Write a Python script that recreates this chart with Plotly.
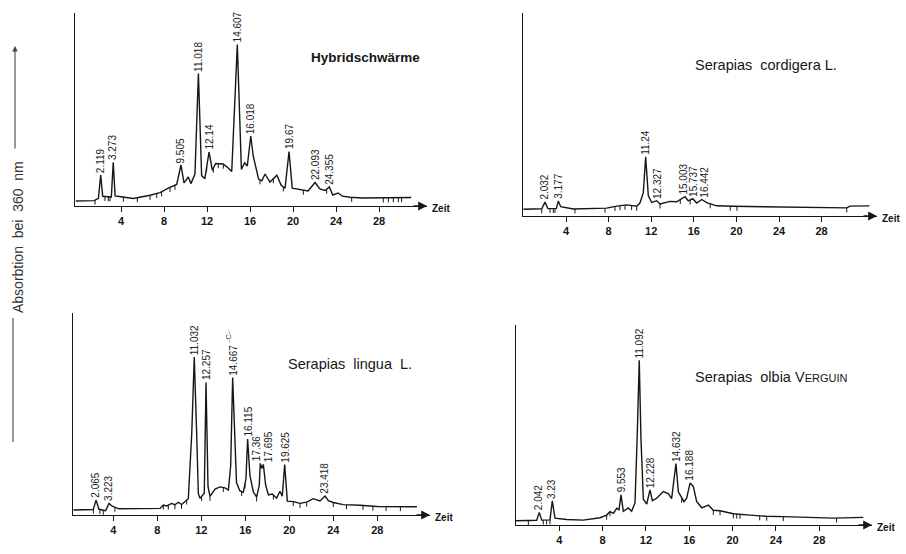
import numpy as np
import plotly.graph_objects as go

W, H = 906, 554

# ---------------- data (retention time in min, absorbance in arbitrary units) ----------------
p1_t = [-0.2, 1.5, 1.9, 2.11, 2.3, 3.1, 3.28, 3.45, 4.0, 5.15, 6.7, 7.63, 8.4, 9.18, 9.58, 9.86,
        10.26, 10.5, 10.88, 11.2, 11.5, 11.8, 12.19, 12.5, 12.8, 13.5, 14.0, 14.3, 14.82, 15.2,
        15.5, 15.75, 16.07, 16.3, 16.8, 17.1, 17.4, 17.86, 18.5, 18.9, 19.26, 19.63, 19.93, 20.65,
        21.4, 22.05, 22.5, 22.98, 23.38, 23.7, 24.2, 24.6, 25.3, 26.5, 28.1, 31.0]
p1_a = [5, 5.4, 7.6, 31, 9.7, 9, 43.7, 10, 9.2, 7.5, 10.7, 13.3, 17.8, 21.5, 41, 23.2,
        29, 22.4, 31.9, 132.5, 30.4, 27.2, 54, 35.7, 42.5, 42, 37.8, 34.5, 161.4, 36.5,
        43.3, 40, 70, 50, 26.9, 25.3, 32, 23.9, 30.7, 20.8, 17.7, 54.5, 17.9, 16.4,
        15, 23.5, 17, 15.5, 19, 11, 13, 9.8, 8.7, 8, 8, 8.5]
p1_peak_lbl = ["2.119", "3.273", "9.505", "11.018", "12.14", "14.607", "16.018", "19.67", "22.093", "24.355"]
p1_peak_t = [2.11, 3.28, 9.58, 11.2, 12.19, 14.82, 16.07, 19.63, 22.05, 23.38]
p1_peak_a = [31, 43.7, 41, 132.5, 54, 161.4, 70, 54.5, 23.5, 19]
p1_marks = [1.58, 2.51, 2.82, 2.98, 4.22, 5.52, 6.7, 7.32, 7.78, 8.56, 9.02, 11.97, 12.59, 13.05,
            13.52, 16.93, 18.17, 19.1, 20.96, 23.13, 25.46, 28.4, 28.87, 29.33, 29.8, 30.1]

p2_t = [0, 1.72, 2.03, 2.3, 3.1, 3.28, 3.5, 4.69, 7.82, 8.76, 9.7, 10.64, 10.95, 11.26, 11.48,
        11.73, 12.05, 12.52, 12.83, 13.77, 14.39, 15.17, 15.48, 15.9, 16.27, 16.74, 17.21, 18.15,
        19.7, 22.85, 25.97, 29.1, 30.36, 30.67, 32.5]
p2_a = [6.7, 7.2, 13.9, 7.4, 7.6, 15, 9.3, 7, 7.9, 9.9, 11.1, 9.8, 13.2, 23.3, 59.3,
        20.1, 13.5, 15.3, 12, 14.6, 14.2, 19.4, 15.2, 17.3, 13, 16.5, 13.3, 10.2,
        9.7, 9.3, 9.2, 8.4, 8.1, 9.9, 10.1]
p2_peak_lbl = ["2.032", "3.177", "11.24", "12.327", "15.003", "15.737", "16.442"]
p2_peak_t = [2.03, 3.28, 11.48, 12.52, 15.17, 15.9, 16.74]
p2_peak_a = [13.9, 15, 59.3, 15.3, 19.4, 17.3, 16.5]
p2_marks = [1.72, 2.5, 2.81, 2.97, 4.84, 7.66, 8.6, 9.07, 9.54, 10.16, 10.64, 12.83, 14.73,
            15.66, 17.54, 19.42, 20.05, 30.36]

p3_t = [0.36, 2.18, 2.43, 2.7, 3.3, 3.61, 3.9, 4.5, 8.25, 8.55, 8.85, 9.3, 9.6, 9.9, 10.22,
        10.52, 10.82, 11.13, 11.36, 11.58, 11.73, 11.88, 12.13, 12.27, 12.43, 12.61, 12.79,
        13.25, 13.7, 14.15, 14.46, 14.67, 14.85, 15.0, 15.2, 15.5, 15.82, 16.06, 16.21, 16.42,
        16.73, 17.03, 17.27, 17.36, 17.52, 17.64, 17.85, 18.1, 18.45, 18.85, 19.15, 19.36,
        19.58, 19.82, 20.36, 20.97, 21.58, 22.18, 22.79, 23.25, 23.55, 24.0, 24.9, 26.42,
        28.0, 31.6]
p3_a = [5, 5.5, 14.9, 5.7, 4.2, 11.6, 8.8, 6.2, 6.6, 10, 9.1, 11.6, 10.3, 12.7, 10.5,
        13.6, 16.3, 81, 158, 81, 21.6, 16.6, 20, 21.7, 132.5, 28.5, 18.6,
        26, 28.1, 27.2, 25, 49, 137.4, 99, 32.5, 24.3, 22.7, 36, 76, 39.6,
        23, 18, 29.8, 51.6, 46.6, 50.6, 30, 20, 20.9, 17, 23.7, 18.7,
        50.5, 13.9, 13.4, 11.6, 12.8, 16.3, 14.1, 18.9, 14.4, 12.5, 10.4, 9.8,
        8.5, 8.3]
p3_peak_lbl = ["2.065", "3.223", "11.032", "12.257", "14.667", "16.115", "17.36", "17.695", "19.625", "23.418"]
p3_peak_t = [2.43, 3.61, 11.36, 12.43, 14.85, 16.21, 17.36, 17.64, 19.58, 23.25]
p3_peak_a = [14.9, 11.6, 158, 132.5, 137.4, 76, 51.6, 50.6, 50.5, 18.9]
p3_marks = [2.19, 2.79, 3.09, 4.15, 8.55, 9.0, 9.6, 10.2, 10.67, 12.03, 12.79, 14.0, 15.67,
            15.97, 17.03, 18.55, 20.36, 20.97, 21.58, 24.0, 25.2, 26.7, 27.6, 28.8, 30.1]

p4_t = [0, 1.14, 1.91, 2.15, 2.37, 3.14, 3.35, 3.6, 4.68, 6.21, 7.76, 8.37, 8.68, 8.99, 9.3,
        9.51, 9.7, 9.91, 10.37, 10.68, 10.99, 11.2, 11.38, 11.54, 11.76, 12.07, 12.37, 12.59,
        12.99, 13.6, 14.06, 14.37, 14.77, 14.99, 15.3, 15.51, 15.76, 16.07, 16.37, 16.68,
        17.15, 17.76, 18.22, 18.84, 19.45, 20.07, 21.6, 23.15, 24.68, 26.22, 29.3, 32.07]
p4_a = [4.3, 4.6, 4.8, 12.6, 4.9, 5.1, 24.2, 6.9, 5.5, 4.9, 7.3, 9.9, 13.3, 11.6, 16.7,
        15.2, 30.2, 13.6, 17, 13.8, 22.2, 92, 164.7, 85.7, 25.8, 20.8, 35.2, 24.3,
        26.7, 33.5, 31.4, 26.4, 61.5, 33.2, 26.7, 23.3, 26.8, 41.9, 38.6, 23.6,
        17.2, 19.9, 14.7, 14.2, 12.8, 11.2, 9.9, 8.7, 8.4, 7.8, 6.9, 7.6]
p4_peak_lbl = ["2.042", "3.23", "9.553", "11.092", "12.228", "14.632", "16.188"]
p4_peak_t = [2.15, 3.35, 9.7, 11.38, 12.37, 14.77, 16.07]
p4_peak_a = [12.6, 24.2, 30.2, 164.7, 35.2, 61.5, 41.9]
p4_marks = [1.14, 2.52, 2.83, 3.14, 8.37, 8.68, 15.3, 18.22, 18.84, 20.07, 20.38, 20.68,
            22.5, 23.15, 24.68, 29.6]

tick_vals = [4, 8, 12, 16, 20, 24, 28]
titles = ["<b>Hybridschwärme</b>",
          "Serapias\u00a0 cordigera L.",
          "Serapias\u00a0 lingua\u00a0 L.",
          "Serapias\u00a0 olbia V<span style='font-size:11px'>ERGUIN</span>"]
y_title = "Absorbtion\u00a0 bei\u00a0 360\u00a0 nm"

# label nudges in pixels (only where two labels would collide)
label_xshift = {"17.36": -3, "17.695": 6, "15.003": -1.5, "16.442": 2}

# ---------------- layout geometry (pixels) ----------------
panels = [
    dict(x0=78.0, k=10.75, xd=(75, 427), yd=(13, 206), tc=(365, 57), tsize=13.5,
         t=p1_t, a=p1_a, pl=p1_peak_lbl, pt=p1_peak_t, pa=p1_peak_a, mk=p1_marks),
    dict(x0=523.4, k=10.65, xd=(522.5, 877), yd=(13, 216), tc=(766, 65), tsize=14.5,
         t=p2_t, a=p2_a, pl=p2_peak_lbl, pt=p2_peak_t, pa=p2_peak_a, mk=p2_marks),
    dict(x0=69.3, k=11.0, xd=(73.3, 430), yd=(313, 515), tc=(350, 364), tsize=14.5,
         t=p3_t, a=p3_a, pl=p3_peak_lbl, pt=p3_peak_t, pa=p3_peak_a, mk=p3_marks),
    dict(x0=516.0, k=10.83, xd=(516, 872), yd=(325, 525), tc=(771, 377), tsize=14.5,
         t=p4_t, a=p4_a, pl=p4_peak_lbl, pt=p4_peak_t, pa=p4_peak_a, mk=p4_marks),
]

FONT = "Liberation Sans, Arial, sans-serif"
INK = "#161616"

fig = go.Figure()
annotations = []
shapes = []
layout_axes = {}

for i, p in enumerate(panels, start=1):
    xs = "" if i == 1 else str(i)
    xa, ya = "x" + xs, "y" + xs
    xmin = (p["xd"][0] - p["x0"]) / p["k"]
    xmax = (p["xd"][1] - p["x0"]) / p["k"]
    hmax = p["yd"][1] - p["yd"][0]

    fig.add_trace(go.Scatter(x=p["t"], y=p["a"], mode="lines", xaxis=xa, yaxis=ya,
                             line=dict(color=INK, width=1.4), showlegend=False, hoverinfo="skip"))
    mx, my = [], []
    for tm in p["mk"]:
        base = float(np.interp(tm, p["t"], p["a"]))
        mx += [tm, tm, None]
        my += [base, base - 4.5, None]
    fig.add_trace(go.Scatter(x=mx, y=my, mode="lines", xaxis=xa, yaxis=ya,
                             line=dict(color=INK, width=1), showlegend=False, hoverinfo="skip"))

    layout_axes["xaxis" + xs] = dict(
        domain=[p["xd"][0] / W, p["xd"][1] / W], range=[xmin, xmax], anchor=ya,
        showline=True, linecolor=INK, linewidth=1.3, showgrid=False, zeroline=False,
        ticks="outside", ticklen=5, tickwidth=1, tickcolor=INK,
        tickvals=tick_vals, ticktext=["<b>%d</b>" % v for v in tick_vals],
        tickfont=dict(family=FONT, size=11, color=INK), fixedrange=True)
    layout_axes["yaxis" + xs] = dict(
        domain=[1 - p["yd"][1] / H, 1 - p["yd"][0] / H], range=[0, hmax], anchor=xa,
        showline=True, linecolor=INK, linewidth=1.1, showgrid=False, zeroline=False,
        showticklabels=False, ticks="", fixedrange=True)

    for lbl, tp, ap in zip(p["pl"], p["pt"], p["pa"]):
        annotations.append(dict(x=tp, y=ap, xref=xa, yref=ya, text=lbl, textangle=-90,
                                showarrow=False, xanchor="center", yanchor="bottom", yshift=0,
                                xshift=label_xshift.get(lbl, 0),
                                font=dict(family=FONT, size=10, color="#222")))
    annotations.append(dict(x=xmax, y=0, xref=xa, yref=ya, ax=-15, ay=0, axref="pixel", ayref="pixel",
                            text="", showarrow=True, arrowhead=2, arrowsize=1.1, arrowwidth=1.6,
                            arrowcolor=INK))
    annotations.append(dict(x=(p["xd"][1] + 3) / W, y=1 - (p["yd"][1] + 2) / H, xref="paper", yref="paper",
                            text="<b>Zeit</b>", showarrow=False, xanchor="left", yanchor="middle",
                            font=dict(family=FONT, size=10, color=INK)))
    annotations.append(dict(x=p["tc"][0] / W, y=1 - p["tc"][1] / H, xref="paper", yref="paper",
                            text=titles[i - 1], showarrow=False, xanchor="center", yanchor="middle",
                            font=dict(family=FONT, size=p["tsize"], color=INK)))

annotations.append(dict(x=18 / W, y=1 - 237 / H, xref="paper", yref="paper", text=y_title,
                        textangle=-90, showarrow=False, xanchor="center", yanchor="middle",
                        font=dict(family=FONT, size=14, color="#333")))
annotations.append(dict(x=15 / W, y=1 - 46 / H, xref="paper", yref="paper", ax=0, ay=104,
                        axref="pixel", ayref="pixel", text="", showarrow=True, arrowhead=2,
                        arrowsize=1, arrowwidth=1.1, arrowcolor="#444"))
shapes.append(dict(type="line", xref="paper", yref="paper", x0=13 / W, x1=13 / W,
                   y0=1 - 318 / H, y1=1 - 442 / H, line=dict(color="#444", width=1.1)))

annotations.append(dict(x=221 / W, y=1 - 336 / H, xref="paper", yref="paper", text="-C-·",
                        textangle=-90, showarrow=False, font=dict(family=FONT, size=8, color="#444")))

fig.update_layout(width=W, height=H, margin=dict(l=0, r=0, t=0, b=0),
                  paper_bgcolor="white", plot_bgcolor="white",
                  annotations=annotations, shapes=shapes, **layout_axes)

fig.write_html("out.html")
